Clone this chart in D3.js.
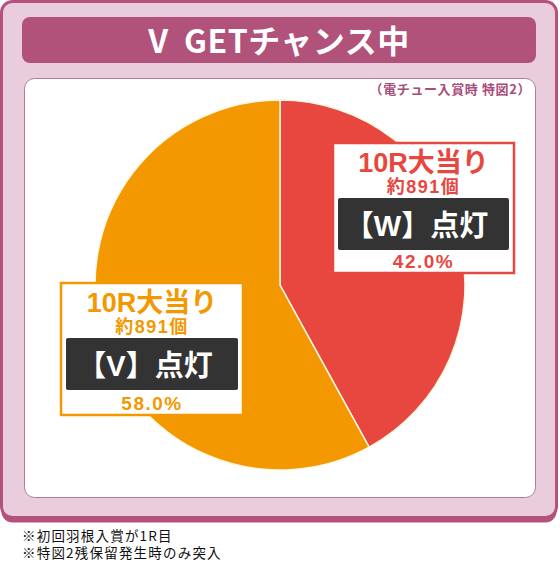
<!DOCTYPE html>
<html>
<head>
<meta charset="utf-8">
<script src="https://cdn.jsdelivr.net/npm/d3@7"></script>
<style>
  body { margin: 0; background: #fff; }
  svg text { font-family: "Noto Sans CJK JP", "Noto Sans", sans-serif; }
  svg text.lbl { font-family: "Liberation Sans", "Noto Sans CJK JP", sans-serif; }
</style>
</head>
<body>
<svg id="chart" width="560" height="562"></svg>
<script>
const title = "V GETチャンス中";
const subtitle = "（電チュー入賞時 特図2）";
const sliceNames = ["W", "V"];
const sliceValues = [42.0, 58.0];
const sliceColors = ["#e8473f", "#f39800"];
const roundLabels = ["10R大当り", "10R大当り"];
const payoutLabels = ["約891個", "約891個"];
const notes = ["※初回羽根入賞が1R目", "※特図2残保留発生時のみ突入"];

const svg = d3.select("#chart");

// outer frame
svg.append("rect")
    .attr("x", 1.5).attr("y", 4.5)
    .attr("width", 555).attr("height", 518)
    .attr("rx", 11)
    .attr("fill", "#b5517d");
svg.append("rect")
    .attr("x", 1.5).attr("y", 1.5)
    .attr("width", 555).attr("height", 516)
    .attr("rx", 11)
    .attr("fill", "#e9cddc")
    .attr("stroke", "#b5517d")
    .attr("stroke-width", 3);

// title bar
svg.append("rect")
    .attr("x", 22).attr("y", 17)
    .attr("width", 514).attr("height", 46)
    .attr("rx", 8)
    .attr("fill", "#b0527a");
svg.append("text")
    .attr("x", 279).attr("y", 53)
    .attr("text-anchor", "middle")
    .attr("fill", "#fff")
    .attr("font-size", 32)
    .attr("font-weight", 700)
    .attr("letter-spacing", 0.5)
    .attr("xml:space", "preserve")
    .text(title.replace(" ", "  "));

// white panel
svg.append("rect")
    .attr("x", 24.5).attr("y", 78.5)
    .attr("width", 511).attr("height", 419)
    .attr("rx", 10)
    .attr("fill", "#fff")
    .attr("stroke", "#b57a98")
    .attr("stroke-width", 1);

svg.append("text")
    .attr("x", 531).attr("y", 94)
    .attr("text-anchor", "end")
    .attr("fill", "#a84c7a")
    .attr("font-size", 13)
    .attr("font-weight", 700)
    .attr("letter-spacing", 0.6)
    .text(subtitle);

// pie
const cx = 280, cy = 285, radius = 185;
const pie = d3.pie().sort(null).value(d => d);
const arc = d3.arc().innerRadius(0).outerRadius(radius);

svg.append("g")
    .attr("transform", `translate(${cx},${cy})`)
    .selectAll("path")
    .data(pie(sliceValues))
    .join("path")
    .attr("d", arc)
    .attr("fill", (d, i) => sliceColors[i])
    .attr("stroke", "#fff8e0")
    .attr("stroke-width", 1.5);

// label boxes
const boxes = [
    { x: 333, y: 143, w: 181, h: 130 },
    { x: 61, y: 283, w: 182, h: 132 }
];

boxes.forEach((b, i) => {
    const g = svg.append("g").attr("transform", `translate(${b.x},${b.y})`);
    const mid = b.w / 2;
    g.append("rect")
        .attr("width", b.w).attr("height", b.h)
        .attr("fill", "#fff")
        .attr("stroke", sliceColors[i])
        .attr("stroke-width", 2.5);
    g.append("text")
        .attr("class", "lbl")
        .attr("x", mid).attr("y", 29)
        .attr("text-anchor", "middle")
        .attr("fill", sliceColors[i])
        .attr("font-size", 27)
        .attr("font-weight", 700)
        .text(roundLabels[i]);
    g.append("text")
        .attr("class", "lbl")
        .attr("x", mid).attr("y", 50)
        .attr("text-anchor", "middle")
        .attr("fill", sliceColors[i])
        .attr("font-size", 18)
        .attr("font-weight", 700)
        .attr("letter-spacing", 1.5)
        .text(payoutLabels[i]);
    g.append("rect")
        .attr("x", 5).attr("y", 55)
        .attr("width", b.w - 10).attr("height", 52)
        .attr("rx", 2)
        .attr("fill", "#333333");
    g.append("text")
        .attr("class", "lbl")
        .attr("x", mid - 7).attr("y", 93)
        .attr("text-anchor", "middle")
        .attr("fill", "#fff")
        .attr("font-size", 29)
        .attr("font-weight", 700)
        .text(`【${sliceNames[i]}】点灯`);
    g.append("text")
        .attr("class", "lbl")
        .attr("x", mid).attr("y", b.h - 5)
        .attr("text-anchor", "middle")
        .attr("fill", sliceColors[i])
        .attr("font-size", 19)
        .attr("font-weight", 700)
        .attr("letter-spacing", 1.5)
        .text(`${sliceValues[i].toFixed(1)}%`);
});

// footnotes
svg.selectAll("text.note")
    .data(notes)
    .join("text")
    .attr("class", "note")
    .attr("x", 22)
    .attr("y", (d, i) => 541 + i * 17)
    .attr("fill", "#111")
    .attr("font-size", 13.5)
    .attr("letter-spacing", 1.2)
    .text(d => d);
</script>
</body>
</html>
